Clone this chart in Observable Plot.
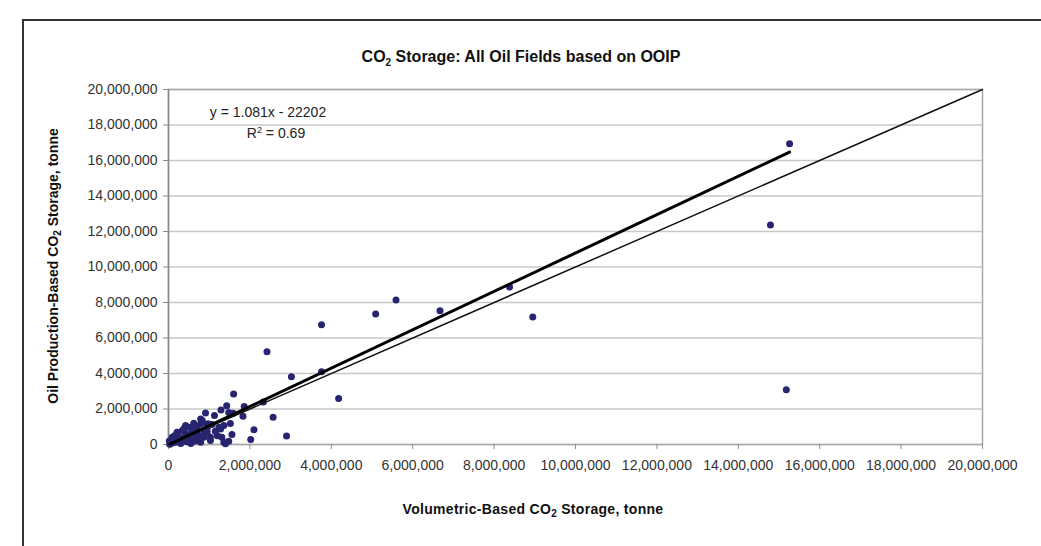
<!DOCTYPE html>
<html>
<head>
<meta charset="utf-8">
<script src="https://cdn.jsdelivr.net/npm/d3@7"></script>
<script src="https://cdn.jsdelivr.net/npm/@observablehq/plot@0.6"></script>
<style>
  html, body { margin: 0; padding: 0; background: #fff; }
  #wrap { position: relative; width: 1041px; height: 546px; overflow: hidden; font-family: "Liberation Sans", Arial, sans-serif; }
  #frame { position: absolute; left: 22px; top: 19px; width: 1040px; height: 540px; border: 2px solid #333; box-sizing: border-box; }
  .t { position: absolute; white-space: nowrap; color: #111; }
  #title { left: 521px; top: 58px; transform: translate(-50%, -50%); font-weight: bold; font-size: 16px; }
  #xlab { left: 533px; top: 510px; transform: translate(-50%, -50%); font-weight: bold; font-size: 14px; letter-spacing: 0.3px; }
  #ylab { left: 54px; top: 266px; transform: translate(-50%, -50%) rotate(-90deg); font-weight: bold; font-size: 14px; }
  #eq1 { left: 268px; top: 112px; transform: translate(-50%, -50%); font-size: 14px; color: #222; }
  #eq2 { left: 276px; top: 133px; transform: translate(-50%, -50%); font-size: 14px; color: #222; }
  #chart { position: absolute; left: 0; top: 0; }
</style>
</head>
<body>
<div id="wrap">
  <div id="frame"></div>
  <div id="chart"></div>
  <div class="t" id="title">CO<sub style="font-size:10px">2</sub> Storage: All Oil Fields based on OOIP</div>
  <div class="t" id="ylab">Oil Production-Based CO<sub style="font-size:10px">2</sub> Storage, tonne</div>
  <div class="t" id="xlab">Volumetric-Based CO<sub style="font-size:10px">2</sub> Storage, tonne</div>
  <div class="t" id="eq1"></div>
  <div class="t" id="eq2"></div>
</div>
<script>
// Data (millions of tonnes)
const volumetricMt = [
  15.26, 14.79, 15.18, 8.95, 8.38, 6.67, 5.59, 5.09, 3.76, 3.76, 4.18, 2.42, 3.02, 2.57, 2.90, 2.10, 2.02,
  1.60, 1.86, 1.83, 1.59, 1.56, 2.33, 1.52,
  0.91, 1.13, 1.29, 1.43, 1.48, 0.95, 1.28, 1.36, 1.31, 1.36, 1.48, 0.87, 0.95, 0.83, 1.07, 1.03, 1.40, 1.24, 1.03,
  0.79, 0.62, 0.50, 0.34, 0.21, 0.09, 0.05, 0.29, 0.54, 0.70, 0.87, 0.42, 0.70, 0.17, 0.79, 0.58, 0.42, 0.21, 0.79, 0.99,
  0.12, 0.25, 0.35, 0.45, 0.60, 0.30, 0.55, 0.65, 0.15, 0.38, 0.10, 0.20, 0.48, 0.66, 0.75, 0.85, 0.02, 0.03, 0.08, 0.95, 1.15, 1.20
];
const oilProductionMt = [
  16.95, 12.37, 3.09, 7.18, 8.87, 7.53, 8.14, 7.35, 6.74, 4.10, 2.59, 5.22, 3.81, 1.53, 0.48, 0.83, 0.28,
  2.85, 2.14, 1.59, 1.76, 0.56, 2.40, 1.18,
  1.78, 1.63, 1.94, 2.18, 1.80, 1.16, 0.88, 1.07, 0.41, 0.13, 0.19, 0.41, 0.69, 1.35, 1.12, 0.22, 0.04, 0.97, 0.41,
  1.44, 1.20, 0.97, 0.79, 0.60, 0.41, 0.04, 0.22, 0.32, 0.60, 0.79, 0.60, 0.97, 0.13, 0.13, 0.79, 1.07, 0.69, 1.16, 1.16,
  0.25, 0.45, 0.35, 0.15, 0.50, 0.05, 0.05, 0.20, 0.50, 0.90, 0.10, 0.30, 0.55, 1.05, 0.38, 0.55, 0.20, 0.02, 0.15, 0.90, 0.75, 0.50
];
const axisTicks = [0, 2e6, 4e6, 6e6, 8e6, 10e6, 12e6, 14e6, 16e6, 18e6, 20e6];
const trendSlope = 1.081;
const trendIntercept = -22202;
const rSquared = 0.69;
const trendRangeX = [0.05e6, 15.26e6];
const identityRange = [0, 20e6];

const points = volumetricMt.map((v, i) => ({x: v * 1e6, y: oilProductionMt[i] * 1e6}));
const trend = trendRangeX.map(x => ({x, y: trendSlope * x + trendIntercept}));
const identity = identityRange.map(v => ({x: v, y: v}));

document.getElementById("eq1").textContent = `y = ${trendSlope}x - ${Math.abs(trendIntercept)}`;
document.getElementById("eq2").innerHTML = `R<sup style="font-size:9px">2</sup> = ${rSquared}`;

const fmt = d3.format(",");
const chart = Plot.plot({
  width: 1041,
  height: 546,
  marginLeft: 168,
  marginRight: 59,
  marginTop: 89,
  marginBottom: 102,
  style: {fontFamily: "'Liberation Sans', Arial, sans-serif", fontSize: "14px", color: "#333", background: "transparent"},
  x: {domain: [0, 20e6], label: null},
  y: {domain: [0, 20e6], label: null},
  marks: [
    Plot.gridY(axisTicks, {stroke: "#c8c8c8", strokeOpacity: 1, strokeWidth: 1.5}),
    Plot.frame({stroke: "#a8a8a8", strokeWidth: 1.5}),
    Plot.ruleX([0], {stroke: "#8a8a8a", strokeWidth: 1.5}),
    Plot.axisX(axisTicks, {tickFormat: fmt, tickSize: 5, tickPadding: 11, stroke: "#8a8a8a", fill: "#333", label: null}),
    Plot.axisY(axisTicks, {tickFormat: fmt, tickSize: 5, tickPadding: 6, stroke: "#8a8a8a", fill: "#333", label: null}),
    Plot.dot(points, {x: "x", y: "y", r: 3.5, fill: "#27256f", stroke: "none"}),
    Plot.line(identity, {x: "x", y: "y", stroke: "#111", strokeWidth: 1.5}),
    Plot.line(trend, {x: "x", y: "y", stroke: "#000", strokeWidth: 3})
  ]
});
document.getElementById("chart").appendChild(chart);
</script>
</body>
</html>
